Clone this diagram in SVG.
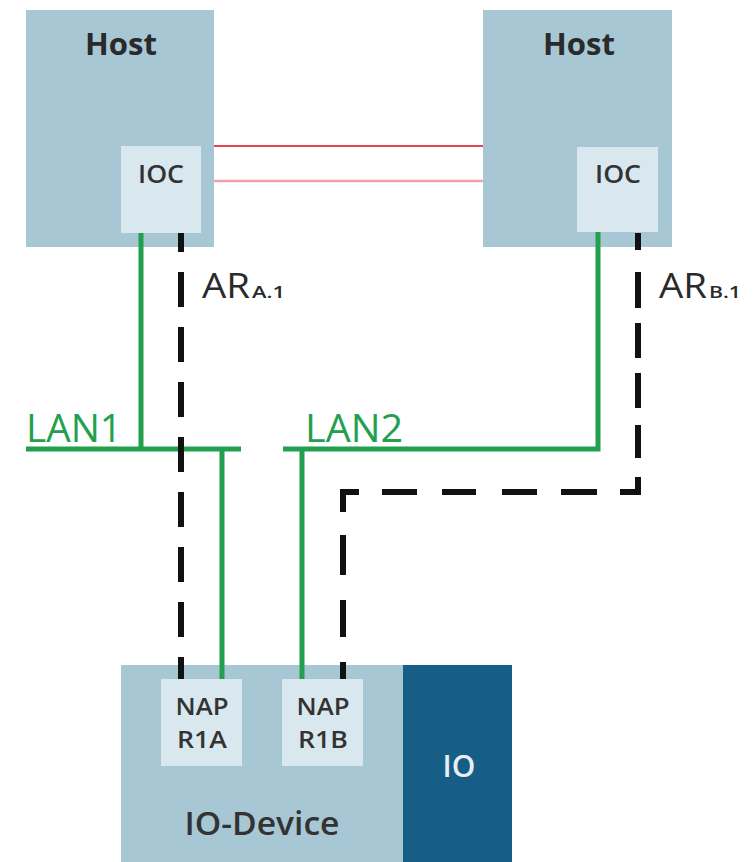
<svg xmlns="http://www.w3.org/2000/svg" width="754" height="862" viewBox="0 0 754 862">
<style>
text { font-family: "Open Sans", "Liberation Sans", sans-serif; }
.host { fill: #a7c7d5; }
.inner { fill: #d9e8ef; }
.io { fill: #165e86; }
.dark { fill: #2a2a2a; font-weight: 700; text-anchor: middle; }
.semi { fill: #333333; font-weight: 600; text-anchor: middle; }
.lan { fill: #22a04d; font-weight: 500; }
.ar { fill: #2a2a2a; }
.green { stroke: #22a04d; stroke-width: 5; fill: none; }
.dash { stroke: #111111; stroke-width: 6; fill: none; }
.red1 { stroke: #e8454c; stroke-width: 2; }
.red2 { stroke: #f2a3a7; stroke-width: 2.5; }
</style>
<rect width="754" height="862" fill="#ffffff"/>

<g id="host-a">
  <rect class="host" x="26" y="10" width="188" height="237"/>
  <text class="dark" x="121" y="55" font-size="31" textLength="72" lengthAdjust="spacingAndGlyphs">Host</text>
</g>
<g id="ioc-a">
  <rect class="inner" x="121" y="146" width="80" height="87"/>
  <text class="semi" x="161" y="183" font-size="25" textLength="46" lengthAdjust="spacingAndGlyphs">IOC</text>
</g>

<g id="host-b">
  <rect class="host" x="483" y="10" width="189" height="237"/>
  <text class="dark" x="579" y="55" font-size="31" textLength="72" lengthAdjust="spacingAndGlyphs">Host</text>
</g>
<g id="ioc-b">
  <rect class="inner" x="577" y="147" width="81" height="85"/>
  <text class="semi" x="618" y="183" font-size="25" textLength="46" lengthAdjust="spacingAndGlyphs">IOC</text>
</g>

<g id="io-device">
  <rect class="host" x="121" y="665" width="282" height="197"/>
  <text class="semi" x="262" y="835" font-size="33" fill="#262626" textLength="155" lengthAdjust="spacingAndGlyphs">IO-Device</text>
</g>
<g id="io">
  <rect class="io" x="403" y="665" width="109" height="197"/>
  <text x="459" y="777" font-size="30" font-weight="600" fill="#e6eff4" text-anchor="middle">IO</text>
</g>
<g id="nap-r1a">
  <rect class="inner" x="161" y="679" width="81" height="87"/>
  <text class="semi" x="202" y="715" font-size="23" textLength="53" lengthAdjust="spacingAndGlyphs">NAP</text>
  <text class="semi" x="202" y="748" font-size="23" textLength="50" lengthAdjust="spacingAndGlyphs">R1A</text>
</g>
<g id="nap-r1b">
  <rect class="inner" x="282" y="679" width="81" height="87"/>
  <text class="semi" x="323" y="715" font-size="23" textLength="53" lengthAdjust="spacingAndGlyphs">NAP</text>
  <text class="semi" x="323" y="748" font-size="23" textLength="50" lengthAdjust="spacingAndGlyphs">R1B</text>
</g>

<g id="lan1">
  <text class="lan" x="26" y="442" font-size="39" textLength="96" lengthAdjust="spacingAndGlyphs">LAN1</text>
</g>
<g id="lan2">
  <text class="lan" x="305" y="442" font-size="39" textLength="98" lengthAdjust="spacingAndGlyphs">LAN2</text>
</g>

<g id="connectors">
  <line class="red1" x1="214" y1="146" x2="483" y2="146"/>
  <line class="red2" x1="214" y1="181" x2="483" y2="181"/>

  <line class="green" x1="141" y1="233" x2="141" y2="449"/>
  <line class="green" x1="26" y1="449" x2="241" y2="449"/>
  <line class="green" x1="222" y1="449" x2="222" y2="679"/>
  <polyline class="green" points="283,449 598,449 598,232" stroke-linejoin="miter"/>
  <line class="green" x1="302" y1="449" x2="302" y2="679"/>

  <path class="dash" d="M181,233 V679" stroke-dasharray="35 20" stroke-dashoffset="16"/>
  <path class="dash" d="M638,233 V492 H343 V679" stroke-linejoin="miter" stroke-dasharray="17 22 36 15 35 15 35 17 33 19 33 23 36 24 35 26 34 25 35 23 36 23 40 25 37 25 40"/>
</g>

<g id="ar-a">
  <text class="ar" x="202" y="298" font-size="35" textLength="48" lengthAdjust="spacingAndGlyphs">AR</text>
  <text class="ar" x="252" y="298" font-size="16" font-weight="600" textLength="33" lengthAdjust="spacingAndGlyphs">A.1</text>
</g>
<g id="ar-b">
  <text class="ar" x="659" y="298" font-size="35" textLength="48" lengthAdjust="spacingAndGlyphs">AR</text>
  <text class="ar" x="709" y="298" font-size="16" font-weight="600" textLength="32" lengthAdjust="spacingAndGlyphs">B.1</text>
</g>
</svg>
